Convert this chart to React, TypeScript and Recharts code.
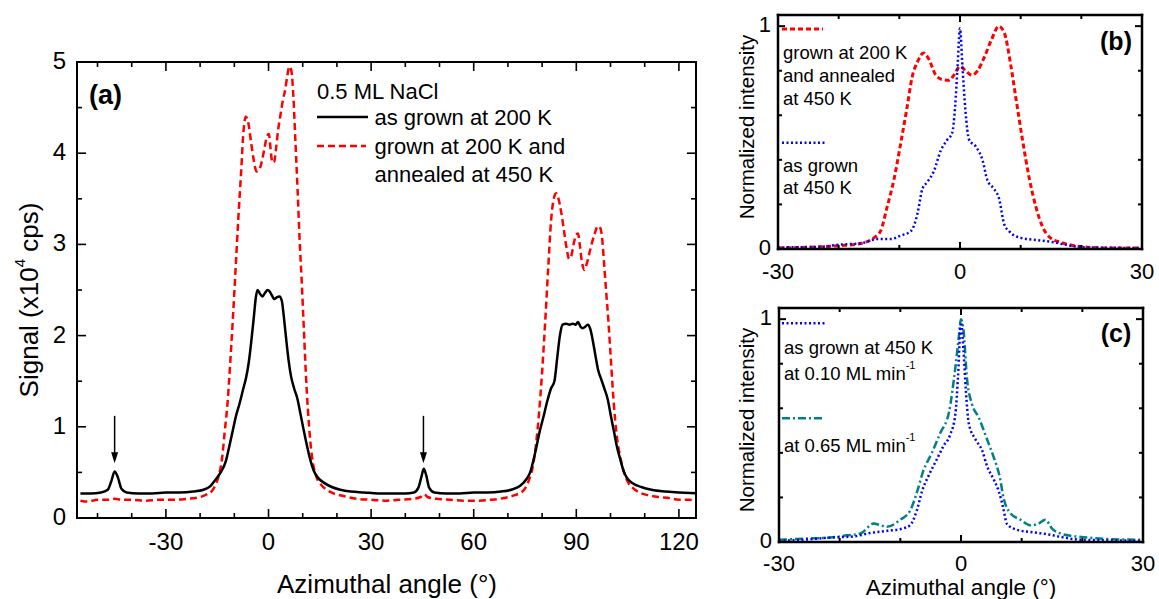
import React from "react";
import { LineChart, Line, XAxis, YAxis, ReferenceLine } from "recharts";

const FONT = "'Liberation Sans', Arial, Helvetica, sans-serif";

// ---- panel (a): signal (x10^4 cps) vs azimuthal angle ----
const asGrown200K: [number, number][] = [
  [-55, 0.27], [-52, 0.27], [-49, 0.28], [-47, 0.31], [-46, 0.4], [-45, 0.51], [-44, 0.44],
  [-43, 0.32], [-41.5, 0.28], [-38, 0.27], [-34, 0.27], [-30, 0.28], [-26, 0.28], [-22, 0.29],
  [-19, 0.31], [-17, 0.35], [-15.5, 0.42], [-14, 0.5], [-12.5, 0.62], [-11.5, 0.78], [-10.5, 0.95],
  [-9.5, 1.12], [-8.5, 1.25], [-7.5, 1.4], [-6.5, 1.55], [-5.8, 1.7], [-5, 1.95], [-4.3, 2.2],
  [-3.7, 2.42], [-3.2, 2.5], [-2.5, 2.46], [-1.8, 2.43], [-1, 2.47], [-0.3, 2.5], [0.4, 2.48],
  [1, 2.44], [1.7, 2.4], [2.4, 2.42], [3.2, 2.43], [3.9, 2.38], [4.5, 2.2], [5.2, 1.95],
  [5.9, 1.72], [6.6, 1.55], [7.5, 1.42], [8.5, 1.3], [9.3, 1.15], [10.2, 0.98], [11.2, 0.8],
  [12.2, 0.64], [13.2, 0.52], [14.5, 0.44], [16.5, 0.38], [18.5, 0.34], [21, 0.31], [24, 0.29],
  [28, 0.28], [32, 0.27], [36, 0.27], [40, 0.27], [42.5, 0.28], [43.8, 0.33], [44.7, 0.45],
  [45.4, 0.54], [46.1, 0.47], [47, 0.33], [48.5, 0.28], [52, 0.27], [56, 0.27], [60, 0.28],
  [64, 0.28], [68, 0.29], [71, 0.31], [73.5, 0.35], [75.5, 0.43], [76.5, 0.5], [78, 0.72],
  [79.3, 0.95], [80.4, 1.11], [81.5, 1.28], [82.6, 1.42], [83.6, 1.5], [84.4, 1.75], [85.2, 2.0],
  [86, 2.12], [87, 2.13], [88, 2.12], [89, 2.13], [89.8, 2.12], [90.5, 2.15], [91.2, 2.1],
  [91.9, 2.08], [92.7, 2.1], [93.4, 2.12], [94.1, 2.07], [94.8, 1.95], [95.6, 1.78], [96.4, 1.62],
  [97.2, 1.53], [98.2, 1.42], [99.2, 1.3], [100.1, 1.12], [101, 0.95], [101.9, 0.78],
  [102.8, 0.65], [103.8, 0.52], [104.8, 0.44], [106.5, 0.38], [109, 0.34], [112, 0.31],
  [116, 0.29], [120, 0.28], [125, 0.27],
];

const annealed450K: [number, number][] = [
  [-55, 0.19], [-53, 0.18], [-50, 0.2], [-47, 0.2], [-45, 0.21], [-43, 0.2], [-40, 0.2],
  [-36, 0.19], [-32, 0.2], [-28, 0.2], [-24, 0.21], [-20, 0.23], [-18, 0.26], [-16.5, 0.3],
  [-15.3, 0.38], [-14.3, 0.5], [-13.5, 0.68], [-12.8, 0.95], [-12, 1.25], [-11.2, 1.7],
  [-10.4, 2.2], [-9.6, 2.75], [-8.8, 3.3], [-8, 3.8], [-7.3, 4.25], [-6.6, 4.4], [-5.9, 4.33],
  [-5.1, 4.12], [-4.3, 3.92], [-3.5, 3.8], [-2.7, 3.82], [-1.9, 3.92], [-1.2, 4.05], [-0.5, 4.18],
  [0.1, 4.21], [0.6, 4.05], [1.1, 3.9], [1.6, 3.9], [2.2, 4.05], [2.8, 4.25], [3.5, 4.42],
  [4.2, 4.58], [4.9, 4.7], [5.5, 4.85], [6.1, 4.95], [6.7, 4.9], [7.3, 4.6], [7.9, 4.1],
  [8.5, 3.6], [9.1, 3.05], [9.7, 2.6], [10.3, 2.1], [10.9, 1.6], [11.5, 1.2], [12.2, 0.85],
  [13, 0.6], [14, 0.45], [15.5, 0.36], [17, 0.31], [19, 0.27], [22, 0.24], [26, 0.21],
  [30, 0.2], [34, 0.19], [38, 0.2], [42, 0.21], [44.5, 0.23], [45.5, 0.26], [46.5, 0.23],
  [49, 0.21], [53, 0.2], [57, 0.19], [61, 0.19], [65, 0.2], [69, 0.22], [72, 0.25], [74.5, 0.3],
  [76, 0.4], [77.2, 0.55], [78.2, 0.8], [79.1, 1.15], [80, 1.6], [80.9, 2.15], [81.8, 2.75],
  [82.6, 3.25], [83.4, 3.5], [84.1, 3.56], [84.8, 3.5], [85.6, 3.35], [86.4, 3.15], [87.2, 2.95],
  [87.9, 2.84], [88.5, 2.87], [89.2, 3.0], [89.9, 3.1], [90.5, 3.12], [91, 3.0], [91.6, 2.82],
  [92.3, 2.72], [93, 2.78], [93.8, 2.9], [94.6, 3.02], [95.4, 3.12], [96.3, 3.2], [97, 3.18],
  [97.6, 3.05], [98.2, 2.75], [98.8, 2.45], [99.4, 2.15], [100, 1.8], [100.6, 1.45],
  [101.3, 1.1], [102, 0.85], [102.8, 0.68], [103.8, 0.52], [105, 0.4], [106.5, 0.33],
  [108.5, 0.28], [111, 0.25], [114, 0.23], [117, 0.22], [120, 0.2], [123, 0.2], [125, 0.19],
];

// arrows marking the small peaks
const arrowAngles = [-45, 45.3];

const xTicksA = [-50, -40, -30, -20, -10, 0, 10, 20, 30, 40, 50, 60, 70, 80, 90, 100, 110, 120];
const xMajorsA = [-30, 0, 30, 60, 90, 120];
const yTicksA = [0, 0.5, 1, 1.5, 2, 2.5, 3, 3.5, 4, 4.5, 5];
const yMajorsA = [0, 1, 2, 3, 4, 5];

// ---- panel (b): normalized intensity ----
const annealedB: [number, number][] = [
  [-30, 0.005], [-26, 0.007], [-23, 0.01], [-19.7, 0.015], [-16.4, 0.025], [-14.2, 0.05],
  [-13.1, 0.08], [-12, 0.19], [-10.9, 0.31], [-9.8, 0.47], [-8.7, 0.64], [-7.9, 0.77], [-7, 0.84],
  [-6, 0.88], [-5.1, 0.85], [-4, 0.78], [-2.9, 0.76], [-1.8, 0.757], [-1, 0.78], [0, 0.82],
  [0.9, 0.8], [2, 0.78], [2.9, 0.8], [4, 0.86], [5.2, 0.94], [6.4, 1.0], [7.3, 0.97], [8.4, 0.82],
  [9.2, 0.68], [10.3, 0.49], [11.4, 0.32], [12.5, 0.19], [13.6, 0.1], [14.9, 0.05], [16.6, 0.03],
  [18.8, 0.015], [21, 0.008], [23.7, 0.005], [30, 0.004],
];

const grown450B: [number, number][] = [
  [-30, 0.007], [-23, 0.01], [-19.7, 0.02], [-16.4, 0.025], [-13.6, 0.045], [-11.4, 0.045],
  [-9.8, 0.06], [-8.1, 0.08], [-7, 0.16], [-6.2, 0.27], [-5.4, 0.3], [-4.3, 0.35], [-3.2, 0.44],
  [-2.1, 0.49], [-1.3, 0.52], [-0.8, 0.64], [-0.4, 0.82], [0, 0.99], [0.4, 0.82], [0.9, 0.62],
  [1.5, 0.49], [2.6, 0.46], [3.7, 0.4], [4.5, 0.31], [5.6, 0.27], [6.4, 0.23], [7.3, 0.11],
  [8.1, 0.08], [10, 0.05], [12.7, 0.04], [15.5, 0.03], [18.2, 0.015], [21, 0.007], [26.5, 0.005],
  [30, 0.004],
];

// ---- panel (c): normalized intensity ----
const rate010C: [number, number][] = [
  [-30, 0.005], [-26, 0.01], [-21.5, 0.02], [-17.7, 0.025], [-15, 0.04], [-12.2, 0.05],
  [-9.7, 0.06], [-8.4, 0.075], [-7.3, 0.14], [-6.4, 0.23], [-5.3, 0.3], [-4, 0.37], [-2.9, 0.43],
  [-1.8, 0.48], [-0.9, 0.58], [-0.5, 0.74], [0, 0.985], [0.4, 0.865], [0.8, 0.68], [1.3, 0.53],
  [2.4, 0.46], [3.5, 0.41], [4.3, 0.34], [5.4, 0.28], [6.2, 0.23], [6.9, 0.16], [7.6, 0.08],
  [9.2, 0.055], [11.4, 0.045], [14.2, 0.035], [16.4, 0.023], [19.7, 0.01], [23.5, 0.008],
  [30, 0.005],
];

const rate065C: [number, number][] = [
  [-30, 0.01], [-26, 0.015], [-21.5, 0.02], [-18.8, 0.03], [-16.6, 0.038], [-14.4, 0.083],
  [-13.3, 0.075], [-12.2, 0.068], [-10, 0.1], [-8.4, 0.14], [-7.3, 0.22], [-6.2, 0.32],
  [-4.8, 0.4], [-3.4, 0.49], [-2, 0.58], [-0.9, 0.79], [-0.4, 0.91], [0, 1.0], [0.4, 0.955],
  [1, 0.73], [1.8, 0.62], [2.9, 0.56], [4.3, 0.46], [5.4, 0.38], [6.4, 0.29], [7, 0.2],
  [8.1, 0.13], [9.8, 0.1], [11.4, 0.075], [12.8, 0.083], [13.9, 0.1], [15, 0.06], [16.4, 0.038],
  [18.6, 0.026], [20.8, 0.02], [23.5, 0.014], [30, 0.01],
];

const xTicksBC = [-30, -20, -10, 0, 10, 20, 30];
const xMajorsBC = [-30, 0, 30];
const yTicksBC = [0, 0.2, 0.4, 0.6, 0.8, 1];
const yMajorsBC = [0, 1];

const toPoints = (arr: [number, number][]) => arr.map(([x, y]) => ({ x, y }));

type Side = "bottom" | "top" | "left" | "right";

// ticks point inwards, labels sit outside the frame
const makeTick =
  (side: Side, majors: number[], majorLen: number, minorLen: number, width: number, fontSize = 0, gap = 0) =>
  (props: any) => {
    const { x, y, payload } = props;
    const v = payload.value as number;
    const isMajor = majors.some((m) => Math.abs(m - v) < 1e-6);
    const len = isMajor ? majorLen : minorLen;
    let x2 = x;
    let y2 = y;
    if (side === "bottom") y2 = y - len;
    if (side === "top") y2 = y + len;
    if (side === "left") x2 = x + len;
    if (side === "right") x2 = x - len;
    const label = fontSize > 0 && isMajor;
    return (
      <g>
        <line x1={x} y1={y} x2={x2} y2={y2} stroke="#000" strokeWidth={width} />
        {label && side === "bottom" && (
          <text x={x} y={y + gap} textAnchor="middle" dominantBaseline="central" fontSize={fontSize} fontFamily={FONT} fill="#000">
            {v}
          </text>
        )}
        {label && side === "left" && (
          <text x={x - gap} y={y - 1.5} textAnchor="end" dominantBaseline="central" fontSize={fontSize} fontFamily={FONT} fill="#000">
            {v}
          </text>
        )}
      </g>
    );
  };

const ArrowShape = (props: any) => {
  const { x1, y1, x2, y2 } = props;
  const head = 11;
  return (
    <g>
      <line x1={x1} y1={y1} x2={x2} y2={y2 - head + 1} stroke="#000" strokeWidth={1.5} />
      <path d={`M${x2 - 3.5},${y2 - head} L${x2 + 3.5},${y2 - head} L${x2},${y2} Z`} fill="#000" />
    </g>
  );
};

function frame(
  domX: number[],
  domY: number[],
  xTicks: number[],
  xMajors: number[],
  yTicks: number[],
  yMajors: number[],
  leftW: number,
  boxW: number,
  majorLen: number,
  minorLen: number,
  fontSize: number,
  xGap: number,
  yGap: number
) {
  const axisLine = { stroke: "#000", strokeWidth: boxW, strokeLinecap: "square" as const };
  return [
    <XAxis
      key="xb"
      type="number"
      dataKey="x"
      domain={domX}
      ticks={xTicks}
      interval={0}
      allowDataOverflow
      height={1}
      tickSize={0}
      tickMargin={0}
      tickLine={false}
      axisLine={axisLine}
      tick={makeTick("bottom", xMajors, majorLen, minorLen, boxW * 0.8, fontSize, xGap)}
    />,
    <XAxis
      key="xt"
      xAxisId="t"
      orientation="top"
      type="number"
      dataKey="x"
      domain={domX}
      ticks={xTicks}
      interval={0}
      allowDataOverflow
      height={1}
      tickSize={0}
      tickMargin={0}
      tickLine={false}
      axisLine={axisLine}
      tick={makeTick("top", xMajors, majorLen, minorLen, boxW * 0.8)}
    />,
    <YAxis
      key="yl"
      type="number"
      domain={domY}
      ticks={yTicks}
      interval={0}
      allowDataOverflow
      width={leftW}
      tickSize={0}
      tickMargin={0}
      tickLine={false}
      axisLine={axisLine}
      tick={makeTick("left", yMajors, majorLen, minorLen, boxW * 0.8, fontSize, yGap)}
    />,
    <YAxis
      key="yr"
      yAxisId="r"
      orientation="right"
      type="number"
      domain={domY}
      ticks={yTicks}
      interval={0}
      allowDataOverflow
      width={1}
      tickSize={0}
      tickMargin={0}
      tickLine={false}
      axisLine={axisLine}
      tick={makeTick("right", yMajors, majorLen, minorLen, boxW * 0.8)}
    />,
  ];
}

const txt = { fontFamily: FONT, fill: "#000", dominantBaseline: "central" as const };

export default function App() {
  return (
    <div
      style={{
        position: "absolute",
        left: 0,
        top: 0,
        width: 1159,
        height: 599,
        background: "#fff",
        overflow: "hidden",
      }}
    >
      {/* (a) */}
      <div style={{ position: "absolute", left: 0, top: 0 }}>
        <LineChart width={720} height={599} margin={{ top: 61, right: 23, bottom: 80, left: 0 }}>
          {frame([-56, 125], [0, 5], xTicksA, xMajorsA, yTicksA, yMajorsA, 77, 2, 9, 5, 24, 23, 11)}
          <Line data={toPoints(annealed450K)} dataKey="y" type="monotone" stroke="#ff0000" strokeWidth={2.5} strokeDasharray="7 4" dot={false} isAnimationActive={false} />
          <Line data={toPoints(asGrown200K)} dataKey="y" type="monotone" stroke="#000" strokeWidth={2.5} dot={false} isAnimationActive={false} />
          {arrowAngles.map((a) => (
            <ReferenceLine
              key={a}
              segment={[{ x: a, y: 1.12 }, { x: a, y: 0.6 }]}
              shape={ArrowShape}
            />
          ))}
        </LineChart>
      </div>

      {/* (b) */}
      <div style={{ position: "absolute", left: 720, top: 0 }}>
        <LineChart width={439} height={300} margin={{ top: 14, right: 16, bottom: 50, left: 0 }}>
          {frame([-30, 30], [0, 1.05], xTicksBC, xMajorsBC, yTicksBC, yMajorsBC, 58, 2.5, 7, 4, 22, 22, 7)}
          <Line data={toPoints(annealedB)} dataKey="y" type="monotone" stroke="#ff0000" strokeWidth={3} strokeDasharray="5 3" dot={false} isAnimationActive={false} />
          <Line data={toPoints(grown450B)} dataKey="y" type="monotone" stroke="#0000ff" strokeWidth={2.5} strokeDasharray="2 2.5" dot={false} isAnimationActive={false} />
        </LineChart>
      </div>

      {/* (c) */}
      <div style={{ position: "absolute", left: 720, top: 290 }}>
        <LineChart width={439} height={309} margin={{ top: 17, right: 15, bottom: 56, left: 0 }}>
          {frame([-30, 30], [0, 1.05], xTicksBC, xMajorsBC, yTicksBC, yMajorsBC, 59, 2.5, 7, 4, 22, 21.5, 7)}
          <Line data={toPoints(rate065C)} dataKey="y" type="monotone" stroke="#008080" strokeWidth={2.5} strokeDasharray="8 3 2 3" dot={false} isAnimationActive={false} />
          <Line data={toPoints(rate010C)} dataKey="y" type="monotone" stroke="#0000ff" strokeWidth={2.5} strokeDasharray="2 2.5" dot={false} isAnimationActive={false} />
        </LineChart>
      </div>

      {/* titles, legends and panel labels */}
      <svg width={1159} height={599} style={{ position: "absolute", left: 0, top: 0, pointerEvents: "none" }}>
        {/* (a) */}
        <text x={89} y={95} fontSize={27} fontWeight="bold" {...txt}>(a)</text>
        <text x={317} y={91} fontSize={22} {...txt}>0.5 ML NaCl</text>
        <line x1={317} y1={117} x2={368} y2={117} stroke="#000" strokeWidth={2.5} />
        <text x={374.5} y={117} fontSize={22} {...txt}>as grown at 200 K</text>
        <line x1={317} y1={146} x2={366} y2={146} stroke="#ff0000" strokeWidth={2.5} strokeDasharray="7 4" />
        <text x={374.5} y={146} fontSize={22} {...txt}>grown at 200 K and</text>
        <text x={374.5} y={174.5} fontSize={22} {...txt}>annealed at 450 K</text>
        <text x={387} y={584} fontSize={26} textAnchor="middle" {...txt}>Azimuthal angle (°)</text>
        <text x={28.5} y={300} fontSize={26} textAnchor="middle" transform="rotate(-90 28.5 300)" {...txt}>
          Signal (x10<tspan dy={-10} fontSize={15}>4</tspan>
          <tspan dy={10} fontSize={26}> cps)</tspan>
        </text>

        {/* (b) */}
        <text x={746.7} y={127} fontSize={20.5} textAnchor="middle" transform="rotate(-90 746.7 127)" {...txt}>Normalized intensity</text>
        <text x={1116} y={41} fontSize={25} fontWeight="bold" textAnchor="middle" {...txt}>(b)</text>
        <line x1={782} y1={29} x2={823} y2={29} stroke="#ff0000" strokeWidth={3} strokeDasharray="5 3" />
        <text x={783} y={52.3} fontSize={18.5} {...txt}>grown at 200 K</text>
        <text x={783} y={75.3} fontSize={18.5} {...txt}>and annealed</text>
        <text x={783} y={98.3} fontSize={18.5} {...txt}>at 450 K</text>
        <line x1={782} y1={142.7} x2={826} y2={142.7} stroke="#0000ff" strokeWidth={2.5} strokeDasharray="2 2.5" />
        <text x={783} y={165.7} fontSize={18.5} {...txt}>as grown</text>
        <text x={783} y={187.7} fontSize={18.5} {...txt}>at 450 K</text>

        {/* (c) */}
        <text x={746.7} y={420} fontSize={20.5} textAnchor="middle" transform="rotate(-90 746.7 420)" {...txt}>Normalized intensity</text>
        <text x={1116} y={333} fontSize={25} fontWeight="bold" textAnchor="middle" {...txt}>(c)</text>
        <line x1={782} y1={323.3} x2={826} y2={323.3} stroke="#0000ff" strokeWidth={2.5} strokeDasharray="2 2.5" />
        <text x={784} y={347.3} fontSize={18.5} {...txt}>as grown at 450 K</text>
        <text x={784} y={373.3} fontSize={18.5} {...txt}>
          at 0.10 ML min<tspan dy={-8} fontSize={11}>-1</tspan>
        </text>
        <line x1={782} y1={418.3} x2={823} y2={418.3} stroke="#008080" strokeWidth={2.5} strokeDasharray="8 3 2 3" />
        <text x={784} y={445} fontSize={18.5} {...txt}>
          at 0.65 ML min<tspan dy={-8} fontSize={11}>-1</tspan>
        </text>
        <text x={961} y={587.3} fontSize={22.5} textAnchor="middle" {...txt}>Azimuthal angle (°)</text>
      </svg>
    </div>
  );
}
